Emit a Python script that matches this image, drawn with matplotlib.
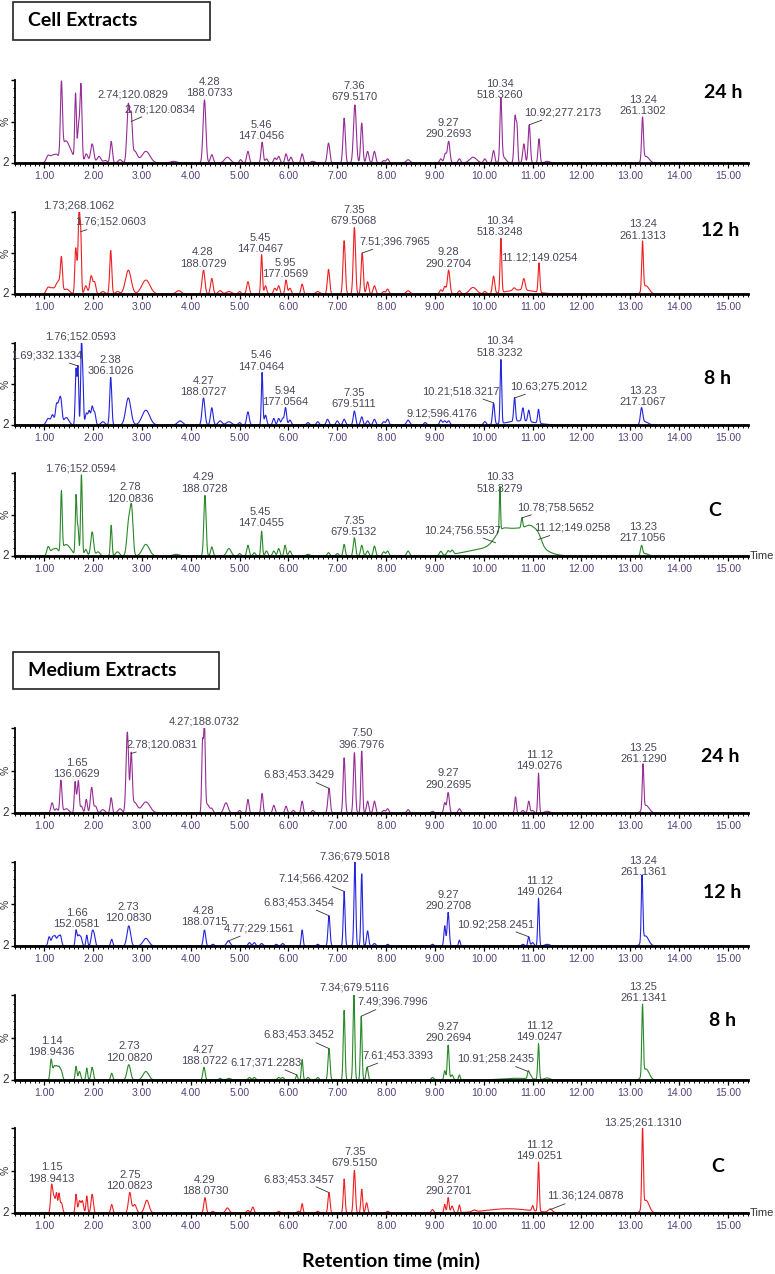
import numpy as np
import matplotlib.pyplot as plt
from matplotlib.patches import Rectangle
from matplotlib.ticker import MultipleLocator, FormatStrFormatter

plt.rcParams['font.family'] = ['Liberation Sans', 'DejaVu Sans']

# peaks: (retention time, height in %, width)
cell_24h = [
    (1.08, 9, 0.03), (1.17, 8, 0.03), (1.25, 9, 0.03), (1.35, 86, 0.016), (1.42, 20, 0.05), (1.52, 13, 0.06),
    (1.64, 80, 0.013), (1.70, 42, 0.015), (1.75, 94, 0.016), (1.86, 11, 0.025), (1.98, 23, 0.025), (2.12, 8, 0.03),
    (2.25, 3, 0.03), (2.37, 26, 0.018), (2.55, 4, 0.03), (2.72, 70, 0.022), (2.78, 48, 0.017), (2.85, 14, 0.04),
    (3.08, 14, 0.065), (3.65, 2, 0.05), (4.28, 76, 0.022), (4.43, 10, 0.022), (4.75, 7, 0.045),
    (5.02, 4, 0.02), (5.17, 14, 0.02), (5.46, 25, 0.017), (5.55, 5, 0.02), (5.72, 6, 0.02), (5.80, 8, 0.02),
    (5.95, 11, 0.018), (6.05, 7, 0.02), (6.28, 11, 0.018), (6.50, 2, 0.03), (6.82, 24, 0.02), (7.14, 54, 0.018),
    (7.36, 70, 0.022), (7.50, 48, 0.017), (7.62, 14, 0.02), (7.76, 14, 0.02), (7.95, 3, 0.02), (8.03, 5, 0.02),
    (8.45, 4, 0.03), (9.12, 5, 0.02), (9.21, 11, 0.018), (9.28, 26, 0.02), (9.50, 5, 0.02), (9.78, 7, 0.055),
    (10.02, 5, 0.02), (10.20, 15, 0.018), (10.35, 74, 0.015), (10.40, 7, 0.04), (10.64, 56, 0.016),
    (10.68, 38, 0.012), (10.82, 23, 0.018), (10.93, 46, 0.017), (11.13, 29, 0.015), (11.30, 2, 0.04),
    (13.25, 51, 0.014), (13.32, 8, 0.05),
]
cell_12h = [
    (1.08, 8, 0.03), (1.17, 7, 0.03), (1.25, 10, 0.022), (1.30, 12, 0.02), (1.35, 42, 0.016), (1.45, 6, 0.05),
    (1.64, 50, 0.013), (1.67, 25, 0.013), (1.71, 98, 0.013), (1.745, 72, 0.012), (1.85, 10, 0.022),
    (1.96, 22, 0.022), (2.03, 14, 0.02), (2.20, 3, 0.03), (2.36, 53, 0.016), (2.50, 3, 0.03), (2.72, 29, 0.045),
    (3.08, 17, 0.065), (3.75, 4, 0.04), (4.26, 29, 0.022), (4.43, 19, 0.02), (4.60, 4, 0.03), (4.78, 3, 0.04),
    (5.00, 3, 0.02), (5.17, 15, 0.02), (5.45, 48, 0.013), (5.53, 10, 0.018), (5.72, 7, 0.02), (5.80, 10, 0.018),
    (5.95, 17, 0.016), (6.03, 7, 0.02), (6.28, 12, 0.018), (6.60, 3, 0.03), (6.82, 30, 0.018), (7.14, 65, 0.018),
    (7.35, 81, 0.018), (7.51, 50, 0.017), (7.62, 15, 0.018), (7.76, 10, 0.02), (7.95, 3, 0.02), (8.03, 6, 0.02),
    (8.45, 4, 0.03), (9.12, 5, 0.02), (9.20, 9, 0.018), (9.28, 29, 0.02), (9.50, 4, 0.02), (9.78, 8, 0.055),
    (10.02, 3, 0.02), (10.20, 21, 0.018), (10.35, 66, 0.013), (10.75, 5, 0.22), (10.62, 3, 0.02),
    (10.82, 14, 0.02), (11.13, 36, 0.013), (13.25, 59, 0.013), (13.32, 10, 0.05),
]
cell_8h = [
    (1.08, 8, 0.03), (1.17, 12, 0.022), (1.25, 24, 0.018), (1.30, 22, 0.018), (1.34, 27, 0.018), (1.45, 9, 0.04),
    (1.65, 68, 0.013), (1.69, 68, 0.011), (1.76, 98, 0.012), (1.79, 50, 0.011), (1.86, 14, 0.018),
    (1.92, 17, 0.018), (1.98, 21, 0.016), (2.03, 15, 0.018), (2.20, 4, 0.03), (2.36, 58, 0.016), (2.72, 33, 0.04),
    (3.08, 18, 0.06), (3.78, 5, 0.04), (4.26, 33, 0.022), (4.43, 21, 0.02), (4.60, 5, 0.03), (4.78, 4, 0.04),
    (5.00, 3, 0.02), (5.17, 16, 0.02), (5.46, 64, 0.012), (5.53, 12, 0.018), (5.70, 8, 0.018), (5.80, 8, 0.018),
    (5.88, 8, 0.018), (5.94, 21, 0.016), (6.03, 6, 0.02), (6.40, 3, 0.02), (6.60, 4, 0.02), (6.80, 7, 0.02),
    (7.00, 5, 0.02), (7.14, 7, 0.02), (7.35, 17, 0.018), (7.50, 10, 0.018), (7.62, 5, 0.02), (7.76, 7, 0.02),
    (7.95, 4, 0.02), (8.03, 7, 0.02), (8.45, 6, 0.025), (8.80, 3, 0.02), (9.12, 6, 0.02), (9.20, 5, 0.02),
    (9.28, 5, 0.02), (10.02, 4, 0.02), (10.20, 26, 0.016), (10.35, 78, 0.012), (10.75, 5, 0.22),
    (10.63, 29, 0.014), (10.80, 16, 0.016), (10.92, 14, 0.016), (11.12, 17, 0.014), (13.23, 19, 0.018),
    (13.30, 4, 0.05),
]
cell_c = [
    (1.08, 11, 0.022), (1.17, 7, 0.03), (1.25, 8, 0.03), (1.35, 72, 0.013), (1.42, 11, 0.05), (1.52, 7, 0.05),
    (1.65, 71, 0.012), (1.69, 33, 0.013), (1.76, 98, 0.013), (1.85, 8, 0.022), (1.98, 29, 0.022), (2.10, 5, 0.03),
    (2.37, 37, 0.013), (2.50, 5, 0.03), (2.73, 42, 0.028), (2.79, 50, 0.022), (3.08, 14, 0.055), (3.70, 2, 0.05),
    (4.29, 73, 0.018), (4.43, 11, 0.018), (4.78, 9, 0.035), (5.00, 3, 0.02), (5.17, 13, 0.018), (5.30, 4, 0.02),
    (5.45, 30, 0.013), (5.55, 6, 0.02), (5.70, 6, 0.02), (5.80, 9, 0.018), (5.93, 13, 0.016), (6.03, 6, 0.02),
    (6.40, 2, 0.03), (6.82, 4, 0.02), (7.00, 3, 0.02), (7.14, 14, 0.016), (7.35, 22, 0.018), (7.50, 13, 0.018),
    (7.62, 6, 0.02), (7.76, 12, 0.018), (7.95, 5, 0.02), (8.03, 6, 0.02), (8.45, 6, 0.022), (9.12, 5, 0.02),
    (9.27, 5, 0.02), (9.35, 5, 0.02), (9.95, 7, 0.3), (10.35, 11, 0.1), (10.72, 32, 0.25), (10.98, 12, 0.08),
    (11.12, 8, 0.05), (10.33, 53, 0.009), (10.78, 12, 0.012), (13.23, 11, 0.016), (13.30, 3, 0.05),
]

med_24h = [
    (1.16, 12, 0.02), (1.25, 5, 0.02), (1.34, 38, 0.016), (1.45, 5, 0.04), (1.63, 36, 0.013), (1.67, 15, 0.013),
    (1.70, 34, 0.013), (1.76, 8, 0.02), (1.86, 16, 0.016), (1.97, 30, 0.02), (2.05, 8, 0.02), (2.20, 4, 0.03),
    (2.37, 18, 0.016), (2.55, 5, 0.03), (2.70, 95, 0.02), (2.78, 66, 0.016), (2.85, 12, 0.04), (3.08, 13, 0.065),
    (4.24, 80, 0.013), (4.28, 98, 0.013), (4.34, 10, 0.03), (4.43, 5, 0.02), (4.72, 12, 0.032), (5.00, 3, 0.02),
    (5.17, 16, 0.016), (5.46, 23, 0.015), (5.70, 9, 0.018), (5.95, 8, 0.018), (6.10, 3, 0.02), (6.28, 14, 0.016),
    (6.50, 3, 0.02), (6.83, 29, 0.018), (7.14, 65, 0.016), (7.35, 71, 0.016), (7.50, 73, 0.014),
    (7.62, 14, 0.018), (7.76, 14, 0.018), (7.95, 3, 0.02), (8.03, 5, 0.02), (8.45, 4, 0.02), (8.95, 2, 0.02),
    (9.20, 12, 0.016), (9.27, 24, 0.018), (9.50, 5, 0.02), (10.65, 19, 0.013), (10.80, 3, 0.02),
    (10.92, 14, 0.016), (11.00, 3, 0.02), (11.12, 47, 0.012), (11.30, 2, 0.04), (13.26, 52, 0.012),
    (13.32, 9, 0.05),
]
med_12h = [
    (1.10, 11, 0.018), (1.17, 10, 0.018), (1.22, 11, 0.018), (1.28, 10, 0.018), (1.33, 12, 0.018),
    (1.65, 18, 0.013), (1.70, 12, 0.018), (1.75, 10, 0.018), (1.87, 13, 0.013), (1.98, 15, 0.018),
    (2.02, 12, 0.018), (2.38, 8, 0.016), (2.73, 24, 0.028), (3.08, 9, 0.045), (4.28, 19, 0.018), (4.45, 2, 0.02),
    (4.77, 6, 0.028), (5.20, 4, 0.02), (5.30, 4, 0.02), (5.45, 3, 0.02), (5.75, 2, 0.02), (5.88, 3, 0.02),
    (6.28, 19, 0.014), (6.60, 2, 0.02), (6.83, 36, 0.016), (7.14, 65, 0.014), (7.36, 100, 0.014),
    (7.50, 86, 0.013), (7.62, 18, 0.016), (7.76, 3, 0.02), (8.03, 2, 0.02), (8.95, 2, 0.02), (9.20, 24, 0.014),
    (9.27, 40, 0.016), (9.50, 7, 0.013), (10.80, 2, 0.02), (10.92, 11, 0.014), (11.00, 4, 0.02),
    (11.12, 57, 0.012), (11.30, 2, 0.04), (13.24, 78, 0.012), (13.31, 12, 0.05),
]
med_8h = [
    (1.14, 24, 0.016), (1.20, 15, 0.018), (1.25, 14, 0.018), (1.30, 14, 0.018), (1.35, 10, 0.018),
    (1.65, 16, 0.013), (1.72, 10, 0.018), (1.87, 14, 0.013), (1.98, 15, 0.018), (2.38, 8, 0.016),
    (2.73, 18, 0.028), (3.08, 10, 0.045), (4.27, 15, 0.018), (4.60, 2, 0.02), (4.78, 2, 0.03), (5.20, 3, 0.02),
    (5.30, 3, 0.02), (5.80, 3, 0.02), (5.88, 3, 0.02), (6.17, 6, 0.013), (6.28, 24, 0.013), (6.40, 3, 0.02),
    (6.60, 3, 0.02), (6.83, 37, 0.016), (7.14, 82, 0.014), (7.34, 100, 0.014), (7.49, 75, 0.013),
    (7.61, 15, 0.016), (8.95, 3, 0.02), (9.20, 11, 0.014), (9.27, 41, 0.014), (9.35, 6, 0.02), (9.50, 6, 0.013),
    (10.70, 2, 0.25), (10.91, 8, 0.013), (10.95, 5, 0.018), (11.12, 42, 0.012), (11.30, 2, 0.04),
    (13.25, 82, 0.012), (13.32, 13, 0.05),
]
med_c = [
    (1.15, 32, 0.016), (1.20, 18, 0.018), (1.25, 22, 0.013), (1.30, 22, 0.013), (1.35, 12, 0.018),
    (1.65, 22, 0.013), (1.72, 14, 0.018), (1.78, 14, 0.018), (1.87, 20, 0.013), (1.98, 22, 0.018),
    (2.38, 10, 0.016), (2.75, 24, 0.022), (2.85, 10, 0.028), (3.10, 15, 0.035), (4.29, 18, 0.018),
    (4.45, 2, 0.02), (4.75, 6, 0.028), (5.17, 3, 0.02), (5.27, 7, 0.018), (5.80, 2, 0.02), (6.20, 2, 0.02),
    (6.28, 11, 0.013), (6.60, 2, 0.02), (6.83, 24, 0.016), (7.14, 40, 0.014), (7.35, 50, 0.016),
    (7.50, 28, 0.014), (7.60, 12, 0.016), (8.03, 2, 0.02), (8.95, 4, 0.02), (9.20, 10, 0.013),
    (9.27, 18, 0.014), (9.35, 8, 0.018), (9.50, 9, 0.013), (9.80, 2, 0.03), (10.50, 5, 0.35), (11.00, 6, 0.013),
    (11.12, 58, 0.012), (11.36, 4, 0.03), (13.25, 94, 0.012), (13.32, 15, 0.05),
]

# peak labels: text, label x, label y, leader tip (or None)
cell_24h_labels = [
    ('2.74;120.0829', 2.81, 82, None), ('2.78;120.0834', 3.36, 65, (2.78, 50)),
    ('4.28\n188.0733', 4.38, 91, None), ('5.46\n147.0456', 5.45, 39, None),
    ('7.36\n679.5170', 7.35, 86, None), ('9.27\n290.2693', 9.27, 42, None),
    ('10.34\n518.3260', 10.33, 89, None), ('10.92;277.2173', 11.62, 61, (10.93, 46)),
    ('13.24\n261.1302', 13.26, 69, None),
]
cell_12h_labels = [
    ('1.73;268.1062', 1.71, 108, None), ('1.76;152.0603', 2.36, 88, (1.745, 76)),
    ('4.28\n188.0729', 4.25, 44, None), ('5.45\n147.0467', 5.43, 62, None),
    ('5.95\n177.0569', 5.93, 31, None), ('7.35\n679.5068', 7.34, 96, None),
    ('7.51;396.7965', 8.18, 64, (7.51, 50)), ('9.28\n290.2704', 9.27, 44, None),
    ('10.34\n518.3248', 10.33, 82, None), ('11.12;149.0254', 11.13, 45, None),
    ('13.24\n261.1313', 13.26, 78, None),
]
cell_8h_labels = [
    ('1.76;152.0593', 1.74, 108, None), ('1.69;332.1334', 1.04, 85, (1.69, 72)),
    ('2.38\n306.1026', 2.36, 73, None), ('4.27\n188.0727', 4.25, 47, None),
    ('5.46\n147.0464', 5.45, 78, None), ('5.94\n177.0564', 5.93, 35, None),
    ('7.35\n679.5111', 7.34, 32, None), ('9.12;596.4176', 9.14, 14, None),
    ('10.21;518.3217', 9.53, 41, (10.20, 27)), ('10.34\n518.3232', 10.33, 95, None),
    ('10.63;275.2012', 11.32, 47, (10.63, 33)), ('13.23\n217.1067', 13.26, 35, None),
]
cell_c_labels = [
    ('1.76;152.0594', 1.74, 106, None), ('2.78\n120.0836', 2.76, 76, None),
    ('4.29\n188.0728', 4.27, 88, None), ('5.45\n147.0455', 5.43, 46, None),
    ('7.35\n679.5132', 7.34, 36, None), ('10.24;756.5537', 9.56, 31, (10.24, 16)),
    ('10.33\n518.3279', 10.33, 88, None), ('10.78;758.5652', 11.48, 59, (10.78, 46)),
    ('11.12;149.0258', 11.82, 34, (11.12, 20)), ('13.23\n217.1056', 13.26, 28, None),
]
med_24h_labels = [
    ('1.65\n136.0629', 1.66, 52, None), ('2.78;120.0831', 3.40, 81, (2.78, 70)),
    ('4.27;188.0732', 4.27, 108, None), ('6.83;453.3429', 6.21, 45, (6.83, 29)),
    ('7.50\n396.7976', 7.50, 87, None), ('9.27\n290.2695', 9.27, 40, None),
    ('11.12\n149.0276', 11.14, 62, None), ('13.25\n261.1290', 13.27, 70, None),
]
med_12h_labels = [
    ('1.66\n152.0581', 1.66, 33, None), ('2.73\n120.0830', 2.72, 40, None),
    ('4.28\n188.0715', 4.27, 35, None), ('4.77;229.1561', 5.40, 21, (4.77, 6)),
    ('6.83;453.3454', 6.21, 52, (6.83, 36)), ('7.14;566.4202', 6.51, 80, (7.14, 65)),
    ('7.36;679.5018', 7.36, 107, None), ('9.27\n290.2708', 9.27, 54, None),
    ('10.92;258.2451', 10.24, 26, (10.92, 11)), ('11.12\n149.0264', 11.14, 71, None),
    ('13.24\n261.1361', 13.27, 95, None),
]
med_8h_labels = [
    ('1.14\n198.9436', 1.15, 39, None), ('2.73\n120.0820', 2.73, 33, None),
    ('4.27\n188.0722', 4.27, 29, None), ('6.17;371.2283', 5.55, 21, (6.17, 6)),
    ('6.83;453.3452', 6.21, 53, (6.83, 37)), ('7.34;679.5116', 7.35, 109, None),
    ('7.49;396.7996', 8.14, 92, (7.49, 75)), ('7.61;453.3393', 8.24, 29, (7.61, 15)),
    ('9.27\n290.2694', 9.27, 56, None), ('10.91;258.2435', 10.24, 25, (10.91, 10)),
    ('11.12\n149.0247', 11.14, 57, None), ('13.25\n261.1341', 13.27, 103, None),
]
med_c_labels = [
    ('1.15\n198.9413', 1.15, 47, None), ('2.75\n120.0823', 2.75, 38, None),
    ('4.29\n188.0730', 4.29, 32, None), ('6.83;453.3457', 6.21, 40, (6.83, 24)),
    ('7.35\n679.5150', 7.36, 65, None), ('9.27\n290.2701', 9.27, 32, None),
    ('11.12\n149.0251', 11.14, 74, None), ('11.36;124.0878', 12.07, 20, (11.36, 4)),
    ('13.25;261.1310', 13.26, 107, None),
]

times = ['24 h', '12 h', '8 h', 'C', '24 h', '12 h', '8 h', 'C']
traces = [cell_24h, cell_12h, cell_8h, cell_c, med_24h, med_12h, med_8h, med_c]
labels = [cell_24h_labels, cell_12h_labels, cell_8h_labels, cell_c_labels,
          med_24h_labels, med_12h_labels, med_8h_labels, med_c_labels]

purple, red, blue, green = '#962d96', '#ee1f23', '#2424dc', '#2a882a'
colors = [purple, red, blue, green, purple, blue, green, red]

# layout in pixels
W, H = 775, 1274
tops = [80, 212, 343, 473, 728, 862, 995, 1128]
bases = [163, 294, 425, 556, 813, 946, 1080, 1213]
tag_pos = [(723, 93), (720, 231), (718, 378), (715, 510),
           (720, 757), (722, 893), (723, 1020), (718, 1166)]

fig = plt.figure(figsize=(W / 100, H / 100), dpi=100)
t = np.linspace(0.4, 15.41, 6000)
txt_col = '#4a4658'
wscale = 1.3  # peak shape broadening

for i in range(8):
    ax = fig.add_axes([15 / W, 1 - bases[i] / H, 733 / W, (bases[i] - tops[i]) / H])
    y = np.zeros_like(t)
    for rt, h, w in traces[i]:
        y += h * np.exp(-0.5 * ((t - rt) / (w * wscale)) ** 2)
    ax.plot(t, y, color=colors[i], lw=0.8)
    ax.set_xlim(0.4, 15.41)
    ax.set_ylim(0, 100)
    ax.spines['top'].set_visible(False)
    ax.spines['right'].set_visible(False)
    ax.spines['bottom'].set_linewidth(2)
    ax.spines['left'].set_linewidth(1.3)
    ax.xaxis.set_major_locator(MultipleLocator(1))
    ax.xaxis.set_minor_locator(MultipleLocator(0.1))
    ax.xaxis.set_major_formatter(FormatStrFormatter('%.2f'))
    ax.tick_params(axis='x', which='major', length=3.5, width=0.9, pad=2.5,
                   labelsize=7.5, labelcolor='#55407a')
    ax.tick_params(axis='x', which='minor', length=2, width=0.7)
    ax.set_yticks([0, 50, 100])
    ax.yaxis.set_minor_locator(MultipleLocator(10))
    ax.tick_params(axis='y', which='major', length=3, width=1, labelleft=False)
    ax.tick_params(axis='y', which='minor', length=1.5, width=0.7)
    ax.text(-0.013, 0, '2', transform=ax.transAxes, ha='center', va='center', fontsize=8.5, color='#333333')
    ax.text(-0.013, 0.5, '%', transform=ax.transAxes, ha='center', va='center', fontsize=7.5,
            rotation=90, color='#333333')
    for text, lx, ly, tip in labels[i]:
        if tip is None:
            ax.text(lx, ly, text, ha='center', va='center', fontsize=8, color=txt_col,
                    linespacing=1.15, clip_on=False)
        else:
            ax.annotate(text, xy=tip, xytext=(lx, ly), ha='center', va='center', fontsize=8,
                        color=txt_col, annotation_clip=False,
                        arrowprops=dict(arrowstyle='-', lw=0.6, color='#333333',
                                        shrinkA=0, shrinkB=0))
    if i in (3, 7):
        ax.text(1.003, 0, 'Time', transform=ax.transAxes, ha='left', va='center', fontsize=8,
                color='#333333')
    tx, ty = tag_pos[i]
    fig.text(tx / W, 1 - ty / H, times[i], ha='center', va='center', fontsize=14,
             fontweight='bold', family=['Lato', 'DejaVu Sans'])

for (x0, y0, x1, y1), title in [((13, 2, 210, 40), 'Cell Extracts'),
                                ((13, 652, 219, 689), 'Medium Extracts')]:
    fig.add_artist(Rectangle((x0 / W, 1 - y1 / H), (x1 - x0) / W, (y1 - y0) / H,
                             transform=fig.transFigure, fill=False, lw=1.2, color='#222222'))
    fig.text(28 / W, 1 - (y0 + y1) / 2 / H, title, ha='left', va='center', fontsize=14,
             fontweight='bold', family=['Lato', 'DejaVu Sans'])

fig.text(391 / W, 1 - 1261 / H, 'Retention time (min)', ha='center', va='center', fontsize=14,
         fontweight='bold', family=['Lato', 'DejaVu Sans'])

fig.savefig('out.png', dpi=100)
